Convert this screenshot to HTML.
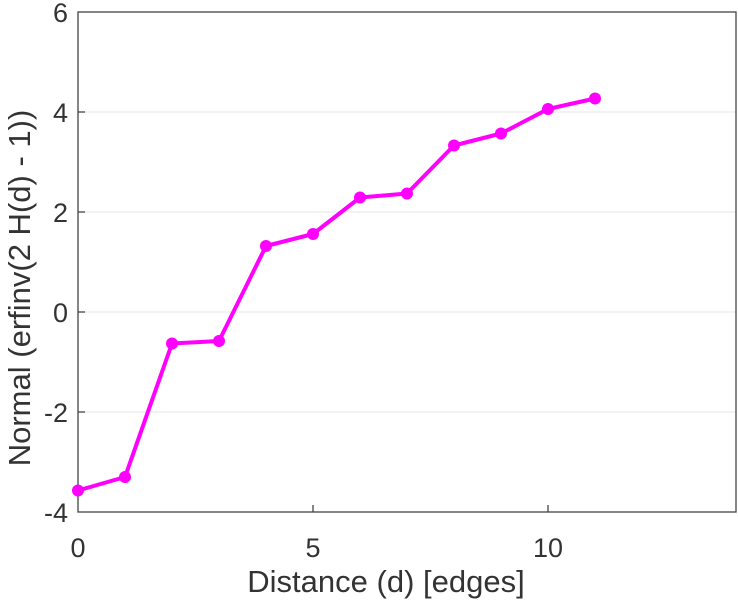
<!DOCTYPE html>
<html><head><meta charset="utf-8"><style>body{margin:0;background:#fff}svg{display:block}text{font-family:"Liberation Sans",sans-serif;fill:#333}</style></head><body>
<svg width="738" height="600" viewBox="0 0 738 600">
<g stroke="#e6e6e6" stroke-width="1">
<line x1="78" y1="112" x2="736" y2="112"/><line x1="78" y1="212" x2="736" y2="212"/><line x1="78" y1="312" x2="736" y2="312"/><line x1="78" y1="412" x2="736" y2="412"/>
</g>
<rect x="78" y="12" width="658" height="500" fill="none" stroke="#444" stroke-width="1.3"/>
<g stroke="#444" stroke-width="1.3">
<line x1="313" y1="512" x2="313" y2="505"/><line x1="548" y1="512" x2="548" y2="505"/>
<line x1="78" y1="112" x2="85" y2="112"/><line x1="78" y1="212" x2="85" y2="212"/><line x1="78" y1="312" x2="85" y2="312"/><line x1="78" y1="412" x2="85" y2="412"/>
</g>
<g font-size="27" text-anchor="end">
<text x="68" y="22">6</text><text x="68" y="122">4</text><text x="68" y="222">2</text><text x="68" y="322">0</text><text x="68" y="422">-2</text><text x="68" y="522">-4</text>
</g>
<g font-size="27" text-anchor="middle">
<text x="78" y="557">0</text><text x="313" y="557">5</text><text x="548" y="557">10</text>
<text x="386" y="592" font-size="31">Distance (d) [edges]</text>
</g>
<text transform="translate(30,288) rotate(-90)" font-size="31" text-anchor="middle">Normal (erfinv(2 H(d) - 1))</text>
<polyline fill="none" stroke="#f0f" stroke-width="4" stroke-linejoin="round" points="78,490.5 125,477 172,343.5 219,341 266,246 313,234 360,197.5 407,193.5 454,145.5 501,133.5 548,109 595,98.5"/>
<g fill="#f0f">
<circle cx="78" cy="490.5" r="6"/><circle cx="125" cy="477" r="6"/><circle cx="172" cy="343.5" r="6"/><circle cx="219" cy="341" r="6"/><circle cx="266" cy="246" r="6"/><circle cx="313" cy="234" r="6"/><circle cx="360" cy="197.5" r="6"/><circle cx="407" cy="193.5" r="6"/><circle cx="454" cy="145.5" r="6"/><circle cx="501" cy="133.5" r="6"/><circle cx="548" cy="109" r="6"/><circle cx="595" cy="98.5" r="6"/>
</g>
</svg>
</body></html>
